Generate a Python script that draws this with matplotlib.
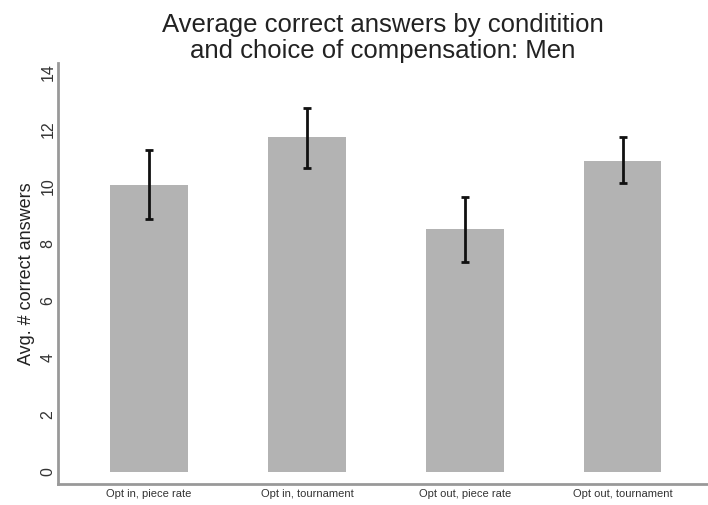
import matplotlib
matplotlib.use('Agg')
import matplotlib.pyplot as plt
import numpy as np

#%% Data

categories  = ['Opt in, piece rate', 'Opt in, tournament', 'Opt out, piece rate', 'Opt out, tournament']
means       = [10.05, 11.73, 8.50, 10.89]
ci_low      = [8.86, 10.64, 7.35, 10.12]
ci_high     = [11.27, 12.74, 9.63, 11.73]
yticks      = [0, 2, 4, 6, 8, 10, 12, 14]

title   = 'Average correct answers by conditition\nand choice of compensation: Men'
ylabel  = 'Avg. # correct answers'

#%% Plot

plt.rcParams['font.family'] = ['Liberation Sans', 'DejaVu Sans']

fig = plt.figure(figsize=(7.08, 5.05), dpi=100)
ax = fig.add_axes([0.082, 0.042, 0.918, 0.833])

x = np.arange(len(categories))
means_arr = np.array(means)
yerr = np.vstack([means_arr - np.array(ci_low), np.array(ci_high) - means_arr])

ax.bar(x, means, width=0.49, color='#b3b3b3', zorder=1)
ax.errorbar(x, means, yerr=yerr, fmt='none', ecolor='#111111', elinewidth=2,
            capsize=3, capthick=2, zorder=2)

ax.set_xlim(-0.576, 3.54)
ax.set_ylim(-0.42, 14.32)

ax.set_xticks(x)
ax.set_xticklabels(categories, fontsize=8, color='#333333')
ax.set_yticks(yticks)
ax.set_yticklabels([str(t) for t in yticks], rotation=90, va='center', fontsize=11.5, color='#333333')
ax.tick_params(axis='both', length=0)
ax.tick_params(axis='x', pad=4)
ax.tick_params(axis='y', pad=2)

ax.set_ylabel(ylabel, fontsize=13, color='#222222', labelpad=4)
ax.set_title(title, fontsize=18.5, color='#222222', pad=4, linespacing=1.07)

for side in ['top', 'right']:
    ax.spines[side].set_visible(False)
for side in ['left', 'bottom']:
    ax.spines[side].set_color('#999999')
    ax.spines[side].set_linewidth(2)

fig.savefig('out.png', dpi=100)
